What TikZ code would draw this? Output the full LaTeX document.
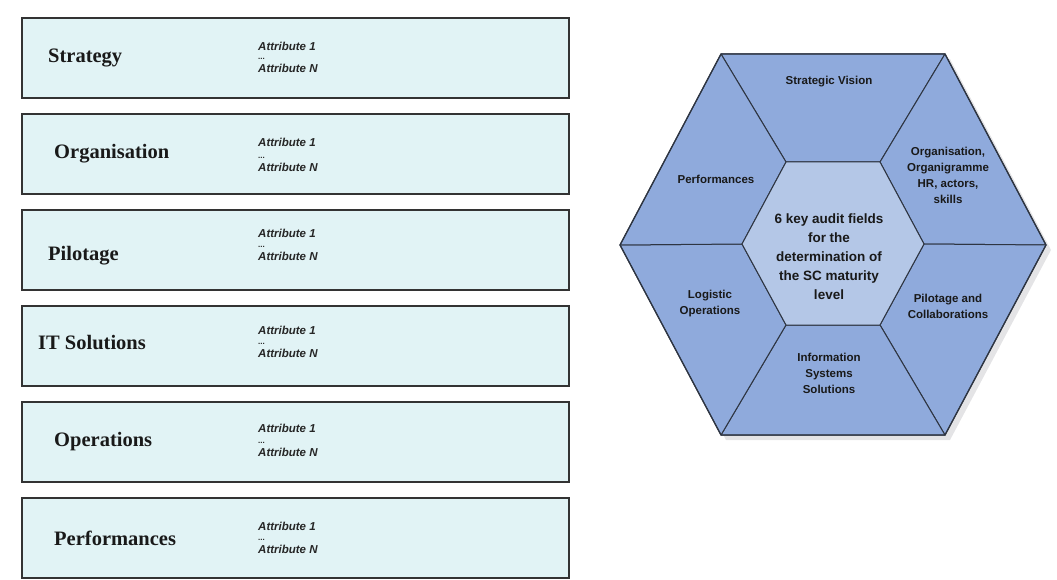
\documentclass[tikz,border=0pt]{standalone}
\usepackage{fontspec}
\setmainfont{Liberation Serif}
\newfontfamily\arialf{Liberation Sans}
\definecolor{boxfill}{HTML}{E1F3F5}
\definecolor{segblue}{HTML}{8FAADC}
\definecolor{inblue}{HTML}{B4C7E7}
\definecolor{hexline}{HTML}{2E3542}
\definecolor{shadowgray}{HTML}{E4E4E6}
\begin{document}
\begin{tikzpicture}[x=1pt,y=-1pt,
  attrbox/.style={draw=black!80, line width=1.5pt, fill=boxfill, minimum width=547pt, minimum height=80pt, inner sep=0pt},
  cat/.style={anchor=base west, font=\fontsize{20.5}{24}\selectfont\bfseries, inner sep=0pt, text=black!90},
  attr/.style={anchor=west, font=\arialf\fontsize{11.5}{13}\selectfont\bfseries\itshape, inner sep=0pt, text=black!85},
  dotsn/.style={anchor=west, font=\arialf\fontsize{8}{9}\selectfont\bfseries, inner sep=0pt, text=black!85},
  seg/.style={fill=segblue, draw=hexline, line width=1pt, line join=round},
  inseg/.style={fill=inblue, draw=hexline, line width=1pt, line join=round},
  segtext/.style={align=center, font=\arialf\fontsize{11.5}{16}\selectfont\bfseries, text=black!90, inner sep=0pt},
  midtext/.style={align=center, font=\arialf\fontsize{13.5}{19}\selectfont\bfseries, text=black!90, inner sep=0pt}
]
\useasboundingbox (0,0) rectangle (1057,580);

% left boxes
\node[attrbox] (b1) at (295.5,58) {};
\node[attrbox] (b2) at (295.5,154) {};
\node[attrbox] (b3) at (295.5,250) {};
\node[attrbox] (b4) at (295.5,346) {};
\node[attrbox] (b5) at (295.5,442) {};
\node[attrbox] (b6) at (295.5,538) {};

\node[cat] (l1) at (48,63) {Strategy};
\node[cat] (l2) at (54,159) {Organisation};
\node[cat] (l3) at (48,260) {Pilotage};
\node[cat] (l4) at (38,349) {IT Solutions};
\node[cat] (l5) at (54,446) {Operations};
\node[cat] (l6) at (54,545) {Performances};

\foreach \i/\ya/\yn in {1/46/68, 2/142/167, 3/233/256, 4/330/353, 5/428/452, 6/526/549}{
  \node[attr] (a\i) at (258,\ya) {Attribute 1};
  \node[dotsn] (d\i) at (258,\yn-9) {...};
  \node[attr] (n\i) at (258,\yn) {Attribute N};
}

% hexagon coordinates
\coordinate (OTL) at (721,54);
\coordinate (OTR) at (945,54);
\coordinate (OR)  at (1046,245);
\coordinate (OBR) at (945,435);
\coordinate (OBL) at (721,435);
\coordinate (OL)  at (620,245);
\coordinate (ITL) at (786,162);
\coordinate (ITR) at (880,162);
\coordinate (IR)  at (924,244);
\coordinate (IBR) at (880,325);
\coordinate (IBL) at (786,325);
\coordinate (IL)  at (742,244);

% shadow
\fill[shadowgray] ([shift={(5,5)}]OTL) -- ([shift={(5,5)}]OTR) -- ([shift={(5,5)}]OR) -- ([shift={(5,5)}]OBR) -- ([shift={(5,5)}]OBL) -- ([shift={(5,5)}]OL) -- cycle;

% segments
\filldraw[seg] (OTL) -- (OTR) -- (ITR) -- (ITL) -- cycle;
\filldraw[seg] (OTR) -- (OR) -- (IR) -- (ITR) -- cycle;
\filldraw[seg] (OR) -- (OBR) -- (IBR) -- (IR) -- cycle;
\filldraw[seg] (OBR) -- (OBL) -- (IBL) -- (IBR) -- cycle;
\filldraw[seg] (OBL) -- (OL) -- (IL) -- (IBL) -- cycle;
\filldraw[seg] (OL) -- (OTL) -- (ITL) -- (IL) -- cycle;
\filldraw[inseg] (ITL) -- (ITR) -- (IR) -- (IBR) -- (IBL) -- (IL) -- cycle;
\draw[hexline, line width=1.3pt, line join=round] (OTL) -- (OTR) -- (OR) -- (OBR) -- (OBL) -- (OL) -- cycle;

% texts
\node[segtext] (t1) at (829,82) {Strategic Vision};
\node[segtext] (t2) at (948,175) {Organisation,\\Organigramme\\HR, actors,\\skills};
\node[segtext] (t3) at (948,306) {Pilotage and\\Collaborations};
\node[segtext] (t4) at (829,373) {Information\\Systems\\Solutions};
\node[segtext] (t5) at (710,304) {Logistic\\Operations};
\node[segtext] (t6) at (716,179) {Performances};
\node[midtext] (tc) at (829,257) {6 key audit fields\\for the\\determination of\\the SC maturity\\level};
\end{tikzpicture}
\end{document}
